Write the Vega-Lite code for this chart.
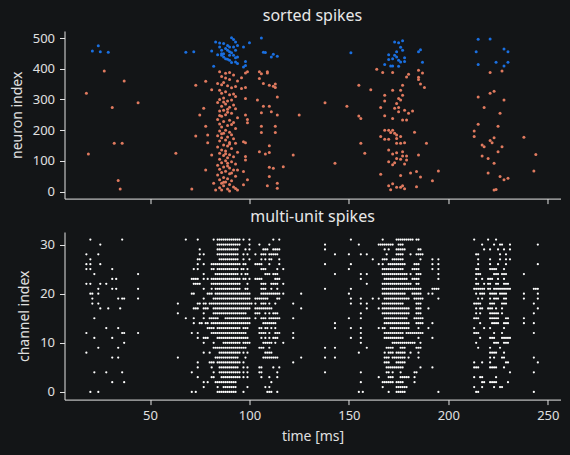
{
  "$schema": "https://vega.github.io/schema/vega-lite/v6.json",
  "background": "#131517",
  "padding": {"left": 9.5, "top": 8, "right": 9, "bottom": 12.8},
  "spacing": 4,
  "config": {
    "view": {"stroke": null},
    "font": "Noto Sans",
    "axis": {
      "grid": false,
      "domainColor": "#e6e6e6",
      "tickColor": "#e6e6e6",
      "labelColor": "#e0e0e0",
      "titleColor": "#e0e0e0",
      "labelFontSize": 13,
      "titleFontSize": 14,
      "titleFontWeight": "normal",
      "tickSize": 5,
      "labelPadding": 5,
      "titlePadding": 7
    },
    "title": {"color": "#e8e8e8", "fontSize": 16, "fontWeight": "normal", "offset": 7}
  },
  "vconcat": [
    {
      "title": "sorted spikes",
      "width": 496,
      "height": 167.6,
      "data": {"name": "sorted"},
      "mark": {"type": "circle", "size": 9, "opacity": 1},
      "encoding": {
        "x": {
          "field": "t",
          "type": "quantitative",
          "scale": {"domain": [7, 256.4], "nice": false, "zero": false},
          "axis": {"labels": false, "title": null, "values": [50, 100, 150, 200, 250]}
        },
        "y": {
          "field": "n",
          "type": "quantitative",
          "scale": {"domain": [-23, 523], "nice": false, "zero": false},
          "axis": {"title": "neuron index", "titlePadding": 8, "values": [0, 100, 200, 300, 400, 500]}
        },
        "color": {
          "field": "n",
          "type": "quantitative",
          "scale": {"type": "threshold", "domain": [400], "range": ["#e07a5f", "#1a6fe0"]},
          "legend": null
        }
      }
    },
    {
      "title": "multi-unit spikes",
      "width": 496,
      "height": 167.6,
      "data": {"name": "mua"},
      "mark": {"type": "circle", "size": 5, "opacity": 1, "color": "#ffffff"},
      "encoding": {
        "x": {
          "field": "t",
          "type": "quantitative",
          "scale": {"domain": [7, 256.4], "nice": false, "zero": false},
          "axis": {"title": "time [ms]", "values": [50, 100, 150, 200, 250]}
        },
        "y": {
          "field": "c",
          "type": "quantitative",
          "scale": {"domain": [-1.55, 32.55], "nice": false, "zero": false},
          "axis": {"title": "channel index", "titlePadding": 8, "values": [0, 10, 20, 30]}
        }
      }
    }
  ],
  "datasets": {
    "sorted": [
      {"t":21,"n":458},{"t":24,"n":475},{"t":25,"n":455},{"t":29,"n":454},{"t":68,"n":454},{"t":72,"n":455},{"t":81,"n":458},{"t":83,"n":487},{"t":85,"n":484},{"t":82,"n":408},{"t":84,"n":446},{"t":86,"n":444},{"t":87,"n":438},{"t":87,"n":482},{"t":88,"n":466},{"t":88,"n":433},{"t":89,"n":476},{"t":89,"n":460},{"t":90,"n":455},{"t":90,"n":444},{"t":90,"n":428},{"t":91,"n":452},{"t":91,"n":501},{"t":92,"n":495},{"t":92,"n":471},{"t":93,"n":436},{"t":93,"n":487},{"t":93,"n":422},{"t":94,"n":476},{"t":94,"n":438},{"t":89,"n":431},{"t":91,"n":420},{"t":97,"n":471},{"t":97,"n":406},{"t":98,"n":411},{"t":98,"n":424},{"t":100,"n":485},{"t":106,"n":500},{"t":107,"n":454},{"t":108,"n":453},{"t":111,"n":438},{"t":112,"n":447},{"t":114,"n":441},{"t":86,"n":460},{"t":87,"n":449},{"t":92,"n":444},{"t":90,"n":471},{"t":93,"n":460},{"t":94,"n":417},{"t":85,"n":471},{"t":86,"n":449},
      {"t":151,"n":452},{"t":173,"n":487},{"t":175,"n":485},{"t":177,"n":491},{"t":174,"n":455},{"t":176,"n":470},{"t":177,"n":460},{"t":170,"n":446},{"t":172,"n":433},{"t":173,"n":444},{"t":174,"n":438},{"t":175,"n":428},{"t":176,"n":422},{"t":178,"n":436},{"t":178,"n":424},{"t":168,"n":414},{"t":171,"n":409},{"t":172,"n":409},{"t":175,"n":408},{"t":170,"n":430},{"t":185,"n":455},{"t":186,"n":462},{"t":187,"n":421},{"t":215,"n":496},{"t":221,"n":497},{"t":214,"n":455},{"t":215,"n":414},{"t":224,"n":421},{"t":228,"n":464},{"t":230,"n":455},{"t":228,"n":409},{"t":230,"n":421},
      {"t":18,"n":320},{"t":19,"n":122},{"t":27,"n":393},{"t":31,"n":274},{"t":32,"n":157},{"t":36,"n":157},{"t":37,"n":360},{"t":34,"n":36},{"t":35,"n":8},{"t":44,"n":289},{"t":63,"n":125},{"t":71,"n":8},{"t":73,"n":346},{"t":75,"n":249},{"t":73,"n":181},{"t":77,"n":271},{"t":78,"n":213},{"t":78,"n":359},{"t":79,"n":184},{"t":79,"n":159},{"t":78,"n":70},{"t":81,"n":119},{"t":81,"n":332},{"t":82,"n":27},{"t":83,"n":5},
      {"t":85,"n":390},{"t":88,"n":385},{"t":92,"n":380},{"t":86,"n":375},{"t":90,"n":365},{"t":94,"n":360},{"t":87,"n":355},{"t":84,"n":352},{"t":89,"n":345},{"t":93,"n":342},{"t":91,"n":338},{"t":85,"n":330},{"t":88,"n":325},{"t":86,"n":320},{"t":90,"n":315},{"t":93,"n":310},{"t":87,"n":305},{"t":85,"n":300},{"t":91,"n":298},{"t":89,"n":295},{"t":84,"n":290},{"t":88,"n":285},{"t":92,"n":282},{"t":86,"n":278},{"t":90,"n":275},{"t":93,"n":270},{"t":87,"n":265},{"t":85,"n":262},{"t":89,"n":258},{"t":91,"n":255},{"t":88,"n":250},{"t":86,"n":245},{"t":94,"n":240},{"t":84,"n":235},{"t":90,"n":232},{"t":87,"n":228},{"t":92,"n":225},{"t":85,"n":220},{"t":89,"n":215},{"t":86,"n":210},{"t":93,"n":205},{"t":88,"n":200},{"t":85,"n":197},{"t":90,"n":193},{"t":87,"n":190},{"t":91,"n":185},{"t":84,"n":182},{"t":89,"n":178},{"t":86,"n":175},{"t":92,"n":172},{"t":88,"n":168},{"t":85,"n":165},{"t":90,"n":160},{"t":93,"n":157},{"t":87,"n":152},{"t":89,"n":148},{"t":84,"n":145},{"t":91,"n":140},{"t":86,"n":135},{"t":88,"n":132},{"t":94,"n":128},{"t":85,"n":125},{"t":90,"n":120},{"t":87,"n":117},{"t":92,"n":113},{"t":89,"n":110},{"t":85,"n":105},{"t":88,"n":100},{"t":91,"n":97},{"t":86,"n":94},{"t":93,"n":90},{"t":84,"n":86},{"t":89,"n":83},{"t":87,"n":80},{"t":90,"n":77},{"t":85,"n":73},{"t":92,"n":70},{"t":88,"n":66},{"t":86,"n":62},{"t":90,"n":58},{"t":84,"n":54},{"t":93,"n":50},{"t":87,"n":46},{"t":89,"n":42},{"t":85,"n":38},{"t":91,"n":35},{"t":88,"n":31},{"t":86,"n":27},{"t":90,"n":23},{"t":87,"n":19},{"t":92,"n":15},{"t":85,"n":12},{"t":89,"n":8},{"t":86,"n":5},{"t":90,"n":2},{"t":90,"n":388},{"t":88,"n":370},{"t":86,"n":348},{"t":92,"n":318},{"t":87,"n":292},{"t":89,"n":268},{"t":85,"n":248},{"t":91,"n":218},{"t":86,"n":188},{"t":90,"n":155},{"t":88,"n":123},{"t":89,"n":92},{"t":91,"n":60},{"t":87,"n":30},{"t":93,"n":10},
      {"t":96,"n":371},{"t":98,"n":339},{"t":98,"n":386},{"t":99,"n":390},{"t":98,"n":303},{"t":98,"n":249},{"t":99,"n":235},{"t":99,"n":224},{"t":97,"n":162},{"t":98,"n":159},{"t":98,"n":114},{"t":98,"n":103},{"t":97,"n":65},{"t":99,"n":38},{"t":97,"n":22},{"t":94,"n":5},{"t":94,"n":70},{"t":96,"n":336},
      {"t":105,"n":390},{"t":106,"n":384},{"t":109,"n":386},{"t":109,"n":390},{"t":105,"n":368},{"t":107,"n":352},{"t":110,"n":346},{"t":112,"n":343},{"t":113,"n":339},{"t":113,"n":350},{"t":114,"n":308},{"t":104,"n":298},{"t":107,"n":278},{"t":110,"n":278},{"t":111,"n":260},{"t":114,"n":249},{"t":106,"n":257},{"t":113,"n":213},{"t":106,"n":213},{"t":106,"n":192},{"t":113,"n":192},{"t":110,"n":149},{"t":108,"n":122},{"t":110,"n":127},{"t":105,"n":130},{"t":110,"n":79},{"t":110,"n":49},{"t":109,"n":19},{"t":114,"n":27},{"t":114,"n":11},{"t":117,"n":81},{"t":122,"n":119},{"t":125,"n":249},{"t":112,"n":76},
      {"t":138,"n":289},{"t":143,"n":92},{"t":149,"n":278},{"t":155,"n":346},{"t":155,"n":246},{"t":156,"n":238},{"t":156,"n":157},{"t":158,"n":125},{"t":161,"n":332},{"t":164,"n":398},{"t":167,"n":388},{"t":166,"n":56},{"t":172,"n":388},{"t":168,"n":314},{"t":168,"n":295},{"t":166,"n":274},{"t":168,"n":247},{"t":172,"n":238},{"t":172,"n":330},{"t":176,"n":330},{"t":177,"n":346},{"t":177,"n":314},{"t":175,"n":303},{"t":176,"n":298},{"t":174,"n":287},{"t":175,"n":274},{"t":173,"n":271},{"t":178,"n":265},{"t":175,"n":260},{"t":180,"n":255},{"t":182,"n":262},{"t":177,"n":233},{"t":179,"n":233},{"t":168,"n":200},{"t":170,"n":200},{"t":172,"n":200},{"t":171,"n":192},{"t":173,"n":190},{"t":174,"n":184},{"t":166,"n":179},{"t":168,"n":170},{"t":170,"n":170},{"t":174,"n":173},{"t":176,"n":179},{"t":174,"n":157},{"t":176,"n":157},{"t":178,"n":159},{"t":183,"n":193},{"t":170,"n":135},{"t":172,"n":122},{"t":174,"n":126},{"t":177,"n":130},{"t":177,"n":116},{"t":179,"n":116},{"t":174,"n":108},{"t":176,"n":105},{"t":179,"n":103},{"t":173,"n":94},{"t":172,"n":87},{"t":170,"n":97},{"t":178,"n":90},{"t":181,"n":60},{"t":184,"n":65},{"t":185,"n":119},{"t":176,"n":52},{"t":186,"n":47},{"t":170,"n":19},{"t":171,"n":6},{"t":172,"n":25},{"t":174,"n":14},{"t":176,"n":14},{"t":177,"n":19},{"t":178,"n":9},{"t":184,"n":16},{"t":189,"n":157},{"t":192,"n":35},{"t":195,"n":67},{"t":185,"n":395},{"t":187,"n":386},{"t":180,"n":382},{"t":179,"n":373},{"t":185,"n":365},{"t":185,"n":372},{"t":186,"n":350},{"t":188,"n":339},
      {"t":221,"n":388},{"t":227,"n":393},{"t":221,"n":320},{"t":223,"n":327},{"t":215,"n":308},{"t":228,"n":298},{"t":218,"n":274},{"t":226,"n":255},{"t":215,"n":219},{"t":225,"n":213},{"t":213,"n":197},{"t":213,"n":179},{"t":223,"n":175},{"t":221,"n":166},{"t":222,"n":159},{"t":217,"n":152},{"t":218,"n":146},{"t":227,"n":146},{"t":225,"n":130},{"t":217,"n":116},{"t":220,"n":108},{"t":223,"n":92},{"t":220,"n":60},{"t":226,"n":49},{"t":228,"n":38},{"t":230,"n":43},{"t":223,"n":5},{"t":224,"n":7},{"t":238,"n":177},{"t":244,"n":121},{"t":243,"n":67}
    ],
    "mua": [
      {"t":20,"c":31},{"t":36,"c":31},{"t":68,"c":31},{"t":74,"c":31},{"t":82,"c":31},{"t":84,"c":31},{"t":85,"c":31},{"t":86,"c":31},{"t":87,"c":31},{"t":88,"c":31},{"t":89,"c":31},{"t":90,"c":31},{"t":91,"c":31},{"t":92,"c":31},{"t":93,"c":31},{"t":94,"c":31},{"t":95,"c":31},{"t":97,"c":31},{"t":100,"c":31},{"t":112,"c":31},{"t":115,"c":31},{"t":151,"c":31},{"t":167,"c":31},{"t":174,"c":31},{"t":175,"c":31},{"t":176,"c":31},{"t":177,"c":31},{"t":178,"c":31},{"t":179,"c":31},{"t":180,"c":31},{"t":181,"c":31},{"t":182,"c":31},{"t":184,"c":31},{"t":185,"c":31},{"t":213,"c":31},{"t":220,"c":31},{"t":224,"c":31},
      {"t":25,"c":30},{"t":84,"c":30},{"t":85,"c":30},{"t":86,"c":30},{"t":87,"c":30},{"t":88,"c":30},{"t":89,"c":30},{"t":90,"c":30},{"t":91,"c":30},{"t":92,"c":30},{"t":93,"c":30},{"t":94,"c":30},{"t":95,"c":30},{"t":100,"c":30},{"t":105,"c":30},{"t":110,"c":30},{"t":138,"c":30},{"t":155,"c":30},{"t":165,"c":30},{"t":166,"c":30},{"t":167,"c":30},{"t":168,"c":30},{"t":169,"c":30},{"t":170,"c":30},{"t":171,"c":30},{"t":172,"c":30},{"t":175,"c":30},{"t":176,"c":30},{"t":177,"c":30},{"t":217,"c":30},{"t":223,"c":30},{"t":226,"c":30},{"t":227,"c":30},{"t":231,"c":30},{"t":245,"c":30},
      {"t":75,"c":29},{"t":84,"c":29},{"t":85,"c":29},{"t":86,"c":29},{"t":87,"c":29},{"t":88,"c":29},{"t":89,"c":29},{"t":90,"c":29},{"t":91,"c":29},{"t":92,"c":29},{"t":93,"c":29},{"t":94,"c":29},{"t":98,"c":29},{"t":100,"c":29},{"t":107,"c":29},{"t":108,"c":29},{"t":109,"c":29},{"t":112,"c":29},{"t":113,"c":29},{"t":114,"c":29},{"t":115,"c":29},{"t":138,"c":29},{"t":168,"c":29},{"t":170,"c":29},{"t":174,"c":29},{"t":175,"c":29},{"t":176,"c":29},{"t":177,"c":29},{"t":178,"c":29},{"t":185,"c":29},{"t":186,"c":29},{"t":218,"c":29},{"t":221,"c":29},{"t":225,"c":29},{"t":228,"c":29},{"t":231,"c":29},
      {"t":18,"c":28},{"t":24,"c":28},{"t":75,"c":28},{"t":77,"c":28},{"t":84,"c":28},{"t":85,"c":28},{"t":86,"c":28},{"t":87,"c":28},{"t":88,"c":28},{"t":89,"c":28},{"t":90,"c":28},{"t":91,"c":28},{"t":92,"c":28},{"t":93,"c":28},{"t":94,"c":28},{"t":97,"c":28},{"t":99,"c":28},{"t":103,"c":28},{"t":106,"c":28},{"t":107,"c":28},{"t":108,"c":28},{"t":110,"c":28},{"t":111,"c":28},{"t":112,"c":28},{"t":113,"c":28},{"t":114,"c":28},{"t":143,"c":28},{"t":150,"c":28},{"t":156,"c":28},{"t":159,"c":28},{"t":169,"c":28},{"t":174,"c":28},{"t":175,"c":28},{"t":176,"c":28},{"t":177,"c":28},{"t":181,"c":28},{"t":184,"c":28},{"t":185,"c":28},{"t":186,"c":28},{"t":187,"c":28},{"t":214,"c":28},{"t":215,"c":28},{"t":226,"c":28},{"t":229,"c":28},
      {"t":20,"c":27},{"t":74,"c":27},{"t":75,"c":27},{"t":85,"c":27},{"t":86,"c":27},{"t":87,"c":27},{"t":88,"c":27},{"t":89,"c":27},{"t":90,"c":27},{"t":91,"c":27},{"t":92,"c":27},{"t":93,"c":27},{"t":94,"c":27},{"t":97,"c":27},{"t":100,"c":27},{"t":106,"c":27},{"t":108,"c":27},{"t":110,"c":27},{"t":111,"c":27},{"t":115,"c":27},{"t":162,"c":27},{"t":167,"c":27},{"t":168,"c":27},{"t":169,"c":27},{"t":172,"c":27},{"t":173,"c":27},{"t":174,"c":27},{"t":175,"c":27},{"t":176,"c":27},{"t":177,"c":27},{"t":186,"c":27},{"t":192,"c":27},{"t":195,"c":27},{"t":215,"c":27},{"t":221,"c":27},{"t":226,"c":27},{"t":229,"c":27},{"t":231,"c":27},
      {"t":18,"c":26},{"t":20,"c":26},{"t":25,"c":26},{"t":74,"c":26},{"t":77,"c":26},{"t":81,"c":26},{"t":82,"c":26},{"t":83,"c":26},{"t":84,"c":26},{"t":85,"c":26},{"t":86,"c":26},{"t":87,"c":26},{"t":88,"c":26},{"t":89,"c":26},{"t":90,"c":26},{"t":91,"c":26},{"t":92,"c":26},{"t":93,"c":26},{"t":94,"c":26},{"t":95,"c":26},{"t":97,"c":26},{"t":98,"c":26},{"t":103,"c":26},{"t":104,"c":26},{"t":105,"c":26},{"t":106,"c":26},{"t":110,"c":26},{"t":115,"c":26},{"t":138,"c":26},{"t":151,"c":26},{"t":165,"c":26},{"t":167,"c":26},{"t":170,"c":26},{"t":171,"c":26},{"t":172,"c":26},{"t":173,"c":26},{"t":174,"c":26},{"t":175,"c":26},{"t":176,"c":26},{"t":177,"c":26},{"t":178,"c":26},{"t":183,"c":26},{"t":184,"c":26},{"t":185,"c":26},{"t":192,"c":26},{"t":195,"c":26},{"t":215,"c":26},{"t":221,"c":26},{"t":225,"c":26},{"t":229,"c":26},{"t":245,"c":26},
      {"t":18,"c":25},{"t":20,"c":25},{"t":31,"c":25},{"t":72,"c":25},{"t":74,"c":25},{"t":81,"c":25},{"t":82,"c":25},{"t":84,"c":25},{"t":85,"c":25},{"t":86,"c":25},{"t":87,"c":25},{"t":88,"c":25},{"t":89,"c":25},{"t":90,"c":25},{"t":91,"c":25},{"t":92,"c":25},{"t":93,"c":25},{"t":94,"c":25},{"t":96,"c":25},{"t":97,"c":25},{"t":99,"c":25},{"t":106,"c":25},{"t":107,"c":25},{"t":108,"c":25},{"t":114,"c":25},{"t":117,"c":25},{"t":150,"c":25},{"t":167,"c":25},{"t":168,"c":25},{"t":169,"c":25},{"t":170,"c":25},{"t":171,"c":25},{"t":172,"c":25},{"t":173,"c":25},{"t":174,"c":25},{"t":175,"c":25},{"t":176,"c":25},{"t":177,"c":25},{"t":182,"c":25},{"t":183,"c":25},{"t":184,"c":25},{"t":185,"c":25},{"t":192,"c":25},{"t":195,"c":25},{"t":214,"c":25},{"t":215,"c":25},{"t":221,"c":25},{"t":222,"c":25},{"t":223,"c":25},{"t":224,"c":25},{"t":228,"c":25},
      {"t":22,"c":24},{"t":44,"c":24},{"t":77,"c":24},{"t":83,"c":24},{"t":84,"c":24},{"t":85,"c":24},{"t":86,"c":24},{"t":87,"c":24},{"t":88,"c":24},{"t":89,"c":24},{"t":90,"c":24},{"t":91,"c":24},{"t":92,"c":24},{"t":93,"c":24},{"t":94,"c":24},{"t":96,"c":24},{"t":98,"c":24},{"t":99,"c":24},{"t":108,"c":24},{"t":109,"c":24},{"t":110,"c":24},{"t":112,"c":24},{"t":113,"c":24},{"t":114,"c":24},{"t":143,"c":24},{"t":156,"c":24},{"t":159,"c":24},{"t":167,"c":24},{"t":168,"c":24},{"t":169,"c":24},{"t":170,"c":24},{"t":171,"c":24},{"t":172,"c":24},{"t":173,"c":24},{"t":174,"c":24},{"t":175,"c":24},{"t":176,"c":24},{"t":177,"c":24},{"t":178,"c":24},{"t":179,"c":24},{"t":181,"c":24},{"t":184,"c":24},{"t":185,"c":24},{"t":186,"c":24},{"t":195,"c":24},{"t":214,"c":24},{"t":215,"c":24},{"t":216,"c":24},{"t":223,"c":24},{"t":224,"c":24},{"t":225,"c":24},{"t":227,"c":24},{"t":228,"c":24},{"t":229,"c":24},{"t":238,"c":24},
      {"t":31,"c":23},{"t":33,"c":23},{"t":71,"c":23},{"t":72,"c":23},{"t":73,"c":23},{"t":74,"c":23},{"t":77,"c":23},{"t":79,"c":23},{"t":81,"c":23},{"t":82,"c":23},{"t":83,"c":23},{"t":84,"c":23},{"t":85,"c":23},{"t":86,"c":23},{"t":87,"c":23},{"t":88,"c":23},{"t":89,"c":23},{"t":90,"c":23},{"t":91,"c":23},{"t":92,"c":23},{"t":93,"c":23},{"t":94,"c":23},{"t":95,"c":23},{"t":97,"c":23},{"t":98,"c":23},{"t":100,"c":23},{"t":103,"c":23},{"t":104,"c":23},{"t":105,"c":23},{"t":106,"c":23},{"t":113,"c":23},{"t":114,"c":23},{"t":115,"c":23},{"t":156,"c":23},{"t":168,"c":23},{"t":169,"c":23},{"t":170,"c":23},{"t":171,"c":23},{"t":172,"c":23},{"t":173,"c":23},{"t":174,"c":23},{"t":175,"c":23},{"t":176,"c":23},{"t":177,"c":23},{"t":178,"c":23},{"t":179,"c":23},{"t":182,"c":23},{"t":183,"c":23},{"t":184,"c":23},{"t":185,"c":23},{"t":195,"c":23},{"t":214,"c":23},{"t":217,"c":23},{"t":220,"c":23},{"t":221,"c":23},{"t":222,"c":23},{"t":225,"c":23},{"t":228,"c":23},
      {"t":18,"c":22},{"t":20,"c":22},{"t":25,"c":22},{"t":28,"c":22},{"t":72,"c":22},{"t":73,"c":22},{"t":74,"c":22},{"t":75,"c":22},{"t":81,"c":22},{"t":82,"c":22},{"t":83,"c":22},{"t":84,"c":22},{"t":85,"c":22},{"t":86,"c":22},{"t":87,"c":22},{"t":88,"c":22},{"t":89,"c":22},{"t":90,"c":22},{"t":91,"c":22},{"t":92,"c":22},{"t":93,"c":22},{"t":94,"c":22},{"t":95,"c":22},{"t":99,"c":22},{"t":106,"c":22},{"t":107,"c":22},{"t":108,"c":22},{"t":111,"c":22},{"t":112,"c":22},{"t":113,"c":22},{"t":114,"c":22},{"t":117,"c":22},{"t":159,"c":22},{"t":167,"c":22},{"t":168,"c":22},{"t":169,"c":22},{"t":170,"c":22},{"t":171,"c":22},{"t":172,"c":22},{"t":173,"c":22},{"t":174,"c":22},{"t":175,"c":22},{"t":176,"c":22},{"t":177,"c":22},{"t":178,"c":22},{"t":179,"c":22},{"t":180,"c":22},{"t":181,"c":22},{"t":184,"c":22},{"t":185,"c":22},{"t":214,"c":22},{"t":215,"c":22},{"t":218,"c":22},{"t":220,"c":22},{"t":221,"c":22},{"t":224,"c":22},{"t":225,"c":22},{"t":228,"c":22},{"t":229,"c":22},{"t":230,"c":22},
      {"t":24,"c":21},{"t":31,"c":21},{"t":33,"c":21},{"t":44,"c":21},{"t":77,"c":21},{"t":81,"c":21},{"t":83,"c":21},{"t":84,"c":21},{"t":85,"c":21},{"t":86,"c":21},{"t":87,"c":21},{"t":88,"c":21},{"t":89,"c":21},{"t":90,"c":21},{"t":91,"c":21},{"t":92,"c":21},{"t":93,"c":21},{"t":94,"c":21},{"t":95,"c":21},{"t":98,"c":21},{"t":99,"c":21},{"t":106,"c":21},{"t":107,"c":21},{"t":108,"c":21},{"t":111,"c":21},{"t":114,"c":21},{"t":138,"c":21},{"t":151,"c":21},{"t":167,"c":21},{"t":168,"c":21},{"t":169,"c":21},{"t":170,"c":21},{"t":171,"c":21},{"t":172,"c":21},{"t":173,"c":21},{"t":174,"c":21},{"t":175,"c":21},{"t":176,"c":21},{"t":177,"c":21},{"t":178,"c":21},{"t":179,"c":21},{"t":180,"c":21},{"t":181,"c":21},{"t":182,"c":21},{"t":183,"c":21},{"t":184,"c":21},{"t":185,"c":21},{"t":186,"c":21},{"t":192,"c":21},{"t":193,"c":21},{"t":194,"c":21},{"t":195,"c":21},{"t":213,"c":21},{"t":214,"c":21},{"t":215,"c":21},{"t":216,"c":21},{"t":217,"c":21},{"t":218,"c":21},{"t":220,"c":21},{"t":221,"c":21},{"t":223,"c":21},{"t":224,"c":21},{"t":225,"c":21},{"t":226,"c":21},{"t":227,"c":21},{"t":228,"c":21},{"t":229,"c":21},{"t":230,"c":21},{"t":231,"c":21},{"t":243,"c":21},{"t":244,"c":21},{"t":245,"c":21},
      {"t":20,"c":20},{"t":21,"c":20},{"t":24,"c":20},{"t":71,"c":20},{"t":72,"c":20},{"t":79,"c":20},{"t":80,"c":20},{"t":81,"c":20},{"t":83,"c":20},{"t":84,"c":20},{"t":85,"c":20},{"t":86,"c":20},{"t":87,"c":20},{"t":88,"c":20},{"t":89,"c":20},{"t":90,"c":20},{"t":91,"c":20},{"t":92,"c":20},{"t":93,"c":20},{"t":94,"c":20},{"t":95,"c":20},{"t":96,"c":20},{"t":97,"c":20},{"t":98,"c":20},{"t":99,"c":20},{"t":100,"c":20},{"t":106,"c":20},{"t":107,"c":20},{"t":108,"c":20},{"t":109,"c":20},{"t":110,"c":20},{"t":111,"c":20},{"t":112,"c":20},{"t":113,"c":20},{"t":114,"c":20},{"t":115,"c":20},{"t":117,"c":20},{"t":126,"c":20},{"t":150,"c":20},{"t":167,"c":20},{"t":168,"c":20},{"t":169,"c":20},{"t":170,"c":20},{"t":171,"c":20},{"t":172,"c":20},{"t":173,"c":20},{"t":174,"c":20},{"t":175,"c":20},{"t":176,"c":20},{"t":177,"c":20},{"t":178,"c":20},{"t":182,"c":20},{"t":183,"c":20},{"t":184,"c":20},{"t":185,"c":20},{"t":186,"c":20},{"t":190,"c":20},{"t":192,"c":20},{"t":214,"c":20},{"t":216,"c":20},{"t":217,"c":20},{"t":218,"c":20},{"t":221,"c":20},{"t":222,"c":20},{"t":223,"c":20},{"t":224,"c":20},{"t":226,"c":20},{"t":227,"c":20},{"t":228,"c":20},{"t":229,"c":20},{"t":238,"c":20},{"t":245,"c":20},
      {"t":21,"c":19},{"t":34,"c":19},{"t":36,"c":19},{"t":37,"c":19},{"t":44,"c":19},{"t":77,"c":19},{"t":82,"c":19},{"t":83,"c":19},{"t":84,"c":19},{"t":85,"c":19},{"t":86,"c":19},{"t":87,"c":19},{"t":88,"c":19},{"t":89,"c":19},{"t":90,"c":19},{"t":91,"c":19},{"t":92,"c":19},{"t":93,"c":19},{"t":94,"c":19},{"t":95,"c":19},{"t":96,"c":19},{"t":97,"c":19},{"t":98,"c":19},{"t":99,"c":19},{"t":100,"c":19},{"t":103,"c":19},{"t":104,"c":19},{"t":105,"c":19},{"t":106,"c":19},{"t":107,"c":19},{"t":108,"c":19},{"t":109,"c":19},{"t":114,"c":19},{"t":115,"c":19},{"t":151,"c":19},{"t":156,"c":19},{"t":162,"c":19},{"t":165,"c":19},{"t":168,"c":19},{"t":169,"c":19},{"t":170,"c":19},{"t":171,"c":19},{"t":172,"c":19},{"t":173,"c":19},{"t":174,"c":19},{"t":175,"c":19},{"t":176,"c":19},{"t":177,"c":19},{"t":178,"c":19},{"t":179,"c":19},{"t":180,"c":19},{"t":183,"c":19},{"t":184,"c":19},{"t":185,"c":19},{"t":186,"c":19},{"t":187,"c":19},{"t":195,"c":19},{"t":215,"c":19},{"t":217,"c":19},{"t":221,"c":19},{"t":223,"c":19},{"t":224,"c":19},{"t":225,"c":19},{"t":228,"c":19},{"t":229,"c":19},{"t":238,"c":19},{"t":245,"c":19},
      {"t":21,"c":18},{"t":24,"c":18},{"t":64,"c":18},{"t":74,"c":18},{"t":75,"c":18},{"t":77,"c":18},{"t":78,"c":18},{"t":80,"c":18},{"t":81,"c":18},{"t":82,"c":18},{"t":83,"c":18},{"t":84,"c":18},{"t":85,"c":18},{"t":86,"c":18},{"t":87,"c":18},{"t":88,"c":18},{"t":89,"c":18},{"t":90,"c":18},{"t":91,"c":18},{"t":92,"c":18},{"t":93,"c":18},{"t":94,"c":18},{"t":95,"c":18},{"t":96,"c":18},{"t":97,"c":18},{"t":98,"c":18},{"t":99,"c":18},{"t":100,"c":18},{"t":101,"c":18},{"t":103,"c":18},{"t":106,"c":18},{"t":107,"c":18},{"t":108,"c":18},{"t":110,"c":18},{"t":113,"c":18},{"t":122,"c":18},{"t":151,"c":18},{"t":156,"c":18},{"t":159,"c":18},{"t":167,"c":18},{"t":168,"c":18},{"t":169,"c":18},{"t":170,"c":18},{"t":171,"c":18},{"t":172,"c":18},{"t":173,"c":18},{"t":174,"c":18},{"t":175,"c":18},{"t":176,"c":18},{"t":177,"c":18},{"t":184,"c":18},{"t":185,"c":18},{"t":186,"c":18},{"t":213,"c":18},{"t":214,"c":18},{"t":215,"c":18},{"t":216,"c":18},{"t":221,"c":18},{"t":222,"c":18},{"t":223,"c":18},{"t":227,"c":18},{"t":228,"c":18},{"t":229,"c":18},{"t":243,"c":18},
      {"t":25,"c":17},{"t":29,"c":17},{"t":35,"c":17},{"t":72,"c":17},{"t":73,"c":17},{"t":74,"c":17},{"t":77,"c":17},{"t":78,"c":17},{"t":79,"c":17},{"t":82,"c":17},{"t":83,"c":17},{"t":84,"c":17},{"t":85,"c":17},{"t":86,"c":17},{"t":87,"c":17},{"t":88,"c":17},{"t":89,"c":17},{"t":90,"c":17},{"t":91,"c":17},{"t":92,"c":17},{"t":93,"c":17},{"t":94,"c":17},{"t":95,"c":17},{"t":96,"c":17},{"t":97,"c":17},{"t":98,"c":17},{"t":99,"c":17},{"t":100,"c":17},{"t":103,"c":17},{"t":104,"c":17},{"t":105,"c":17},{"t":106,"c":17},{"t":107,"c":17},{"t":108,"c":17},{"t":109,"c":17},{"t":110,"c":17},{"t":111,"c":17},{"t":126,"c":17},{"t":159,"c":17},{"t":165,"c":17},{"t":167,"c":17},{"t":168,"c":17},{"t":169,"c":17},{"t":170,"c":17},{"t":171,"c":17},{"t":172,"c":17},{"t":173,"c":17},{"t":174,"c":17},{"t":175,"c":17},{"t":176,"c":17},{"t":177,"c":17},{"t":178,"c":17},{"t":179,"c":17},{"t":180,"c":17},{"t":184,"c":17},{"t":185,"c":17},{"t":186,"c":17},{"t":190,"c":17},{"t":214,"c":17},{"t":216,"c":17},{"t":217,"c":17},{"t":220,"c":17},{"t":221,"c":17},{"t":222,"c":17},{"t":224,"c":17},{"t":227,"c":17},{"t":245,"c":17},
      {"t":64,"c":16},{"t":77,"c":16},{"t":82,"c":16},{"t":83,"c":16},{"t":84,"c":16},{"t":85,"c":16},{"t":86,"c":16},{"t":87,"c":16},{"t":88,"c":16},{"t":89,"c":16},{"t":90,"c":16},{"t":91,"c":16},{"t":92,"c":16},{"t":93,"c":16},{"t":94,"c":16},{"t":95,"c":16},{"t":96,"c":16},{"t":97,"c":16},{"t":98,"c":16},{"t":103,"c":16},{"t":104,"c":16},{"t":105,"c":16},{"t":108,"c":16},{"t":110,"c":16},{"t":112,"c":16},{"t":113,"c":16},{"t":114,"c":16},{"t":156,"c":16},{"t":167,"c":16},{"t":168,"c":16},{"t":169,"c":16},{"t":170,"c":16},{"t":171,"c":16},{"t":172,"c":16},{"t":173,"c":16},{"t":174,"c":16},{"t":175,"c":16},{"t":176,"c":16},{"t":177,"c":16},{"t":178,"c":16},{"t":179,"c":16},{"t":180,"c":16},{"t":184,"c":16},{"t":185,"c":16},{"t":186,"c":16},{"t":214,"c":16},{"t":216,"c":16},{"t":221,"c":16},{"t":222,"c":16},{"t":223,"c":16},{"t":224,"c":16},{"t":225,"c":16},{"t":227,"c":16},{"t":243,"c":16},
      {"t":22,"c":15},{"t":68,"c":15},{"t":72,"c":15},{"t":77,"c":15},{"t":80,"c":15},{"t":81,"c":15},{"t":82,"c":15},{"t":83,"c":15},{"t":84,"c":15},{"t":88,"c":15},{"t":89,"c":15},{"t":90,"c":15},{"t":91,"c":15},{"t":92,"c":15},{"t":93,"c":15},{"t":94,"c":15},{"t":95,"c":15},{"t":96,"c":15},{"t":97,"c":15},{"t":98,"c":15},{"t":99,"c":15},{"t":100,"c":15},{"t":103,"c":15},{"t":106,"c":15},{"t":107,"c":15},{"t":108,"c":15},{"t":110,"c":15},{"t":111,"c":15},{"t":112,"c":15},{"t":113,"c":15},{"t":114,"c":15},{"t":115,"c":15},{"t":122,"c":15},{"t":150,"c":15},{"t":156,"c":15},{"t":168,"c":15},{"t":169,"c":15},{"t":170,"c":15},{"t":171,"c":15},{"t":172,"c":15},{"t":173,"c":15},{"t":174,"c":15},{"t":175,"c":15},{"t":176,"c":15},{"t":177,"c":15},{"t":178,"c":15},{"t":179,"c":15},{"t":183,"c":15},{"t":184,"c":15},{"t":185,"c":15},{"t":186,"c":15},{"t":187,"c":15},{"t":213,"c":15},{"t":214,"c":15},{"t":215,"c":15},{"t":221,"c":15},{"t":222,"c":15},{"t":223,"c":15},{"t":224,"c":15},{"t":225,"c":15},{"t":229,"c":15},{"t":230,"c":15},{"t":238,"c":15},
      {"t":72,"c":14},{"t":75,"c":14},{"t":76,"c":14},{"t":78,"c":14},{"t":79,"c":14},{"t":81,"c":14},{"t":82,"c":14},{"t":83,"c":14},{"t":84,"c":14},{"t":85,"c":14},{"t":86,"c":14},{"t":87,"c":14},{"t":88,"c":14},{"t":89,"c":14},{"t":90,"c":14},{"t":91,"c":14},{"t":92,"c":14},{"t":93,"c":14},{"t":94,"c":14},{"t":95,"c":14},{"t":96,"c":14},{"t":97,"c":14},{"t":98,"c":14},{"t":99,"c":14},{"t":100,"c":14},{"t":107,"c":14},{"t":108,"c":14},{"t":109,"c":14},{"t":110,"c":14},{"t":111,"c":14},{"t":112,"c":14},{"t":113,"c":14},{"t":143,"c":14},{"t":168,"c":14},{"t":169,"c":14},{"t":170,"c":14},{"t":171,"c":14},{"t":172,"c":14},{"t":173,"c":14},{"t":174,"c":14},{"t":175,"c":14},{"t":176,"c":14},{"t":177,"c":14},{"t":178,"c":14},{"t":179,"c":14},{"t":180,"c":14},{"t":184,"c":14},{"t":185,"c":14},{"t":186,"c":14},{"t":187,"c":14},{"t":192,"c":14},{"t":216,"c":14},{"t":222,"c":14},{"t":223,"c":14},{"t":224,"c":14},{"t":225,"c":14},{"t":228,"c":14},{"t":229,"c":14},{"t":230,"c":14},{"t":238,"c":14},{"t":243,"c":14},
      {"t":28,"c":13},{"t":34,"c":13},{"t":79,"c":13},{"t":80,"c":13},{"t":81,"c":13},{"t":82,"c":13},{"t":84,"c":13},{"t":85,"c":13},{"t":86,"c":13},{"t":87,"c":13},{"t":88,"c":13},{"t":89,"c":13},{"t":90,"c":13},{"t":91,"c":13},{"t":92,"c":13},{"t":93,"c":13},{"t":94,"c":13},{"t":95,"c":13},{"t":97,"c":13},{"t":98,"c":13},{"t":99,"c":13},{"t":105,"c":13},{"t":106,"c":13},{"t":108,"c":13},{"t":109,"c":13},{"t":111,"c":13},{"t":113,"c":13},{"t":143,"c":13},{"t":151,"c":13},{"t":156,"c":13},{"t":165,"c":13},{"t":167,"c":13},{"t":168,"c":13},{"t":171,"c":13},{"t":172,"c":13},{"t":173,"c":13},{"t":174,"c":13},{"t":175,"c":13},{"t":176,"c":13},{"t":177,"c":13},{"t":178,"c":13},{"t":179,"c":13},{"t":180,"c":13},{"t":185,"c":13},{"t":190,"c":13},{"t":213,"c":13},{"t":218,"c":13},{"t":221,"c":13},{"t":228,"c":13},
      {"t":18,"c":12},{"t":36,"c":12},{"t":37,"c":12},{"t":44,"c":12},{"t":71,"c":12},{"t":74,"c":12},{"t":81,"c":12},{"t":82,"c":12},{"t":83,"c":12},{"t":84,"c":12},{"t":85,"c":12},{"t":86,"c":12},{"t":87,"c":12},{"t":88,"c":12},{"t":89,"c":12},{"t":90,"c":12},{"t":91,"c":12},{"t":92,"c":12},{"t":93,"c":12},{"t":94,"c":12},{"t":95,"c":12},{"t":96,"c":12},{"t":97,"c":12},{"t":98,"c":12},{"t":105,"c":12},{"t":106,"c":12},{"t":107,"c":12},{"t":108,"c":12},{"t":110,"c":12},{"t":113,"c":12},{"t":114,"c":12},{"t":115,"c":12},{"t":122,"c":12},{"t":156,"c":12},{"t":168,"c":12},{"t":169,"c":12},{"t":170,"c":12},{"t":171,"c":12},{"t":172,"c":12},{"t":173,"c":12},{"t":174,"c":12},{"t":175,"c":12},{"t":176,"c":12},{"t":177,"c":12},{"t":179,"c":12},{"t":180,"c":12},{"t":181,"c":12},{"t":182,"c":12},{"t":183,"c":12},{"t":184,"c":12},{"t":185,"c":12},{"t":186,"c":12},{"t":187,"c":12},{"t":213,"c":12},{"t":214,"c":12},{"t":215,"c":12},{"t":223,"c":12},{"t":227,"c":12},{"t":243,"c":12},
      {"t":22,"c":11},{"t":31,"c":11},{"t":74,"c":11},{"t":77,"c":11},{"t":78,"c":11},{"t":79,"c":11},{"t":84,"c":11},{"t":85,"c":11},{"t":86,"c":11},{"t":87,"c":11},{"t":88,"c":11},{"t":89,"c":11},{"t":90,"c":11},{"t":91,"c":11},{"t":92,"c":11},{"t":93,"c":11},{"t":94,"c":11},{"t":95,"c":11},{"t":96,"c":11},{"t":97,"c":11},{"t":98,"c":11},{"t":99,"c":11},{"t":106,"c":11},{"t":108,"c":11},{"t":110,"c":11},{"t":112,"c":11},{"t":113,"c":11},{"t":114,"c":11},{"t":122,"c":11},{"t":151,"c":11},{"t":156,"c":11},{"t":168,"c":11},{"t":169,"c":11},{"t":170,"c":11},{"t":171,"c":11},{"t":172,"c":11},{"t":173,"c":11},{"t":174,"c":11},{"t":175,"c":11},{"t":176,"c":11},{"t":177,"c":11},{"t":185,"c":11},{"t":192,"c":11},{"t":216,"c":11},{"t":221,"c":11},{"t":222,"c":11},{"t":223,"c":11},{"t":227,"c":11},{"t":228,"c":11},{"t":229,"c":11},{"t":230,"c":11},{"t":231,"c":11},
      {"t":37,"c":10},{"t":77,"c":10},{"t":82,"c":10},{"t":87,"c":10},{"t":88,"c":10},{"t":89,"c":10},{"t":90,"c":10},{"t":91,"c":10},{"t":92,"c":10},{"t":93,"c":10},{"t":94,"c":10},{"t":95,"c":10},{"t":97,"c":10},{"t":98,"c":10},{"t":99,"c":10},{"t":100,"c":10},{"t":107,"c":10},{"t":108,"c":10},{"t":109,"c":10},{"t":110,"c":10},{"t":111,"c":10},{"t":113,"c":10},{"t":117,"c":10},{"t":156,"c":10},{"t":172,"c":10},{"t":173,"c":10},{"t":174,"c":10},{"t":175,"c":10},{"t":176,"c":10},{"t":177,"c":10},{"t":178,"c":10},{"t":179,"c":10},{"t":180,"c":10},{"t":181,"c":10},{"t":182,"c":10},{"t":183,"c":10},{"t":186,"c":10},{"t":214,"c":10},{"t":223,"c":10},{"t":224,"c":10},{"t":225,"c":10},{"t":228,"c":10},{"t":229,"c":10},{"t":230,"c":10},
      {"t":24,"c":9},{"t":34,"c":9},{"t":82,"c":9},{"t":83,"c":9},{"t":84,"c":9},{"t":85,"c":9},{"t":86,"c":9},{"t":87,"c":9},{"t":88,"c":9},{"t":89,"c":9},{"t":90,"c":9},{"t":91,"c":9},{"t":92,"c":9},{"t":93,"c":9},{"t":94,"c":9},{"t":95,"c":9},{"t":96,"c":9},{"t":97,"c":9},{"t":98,"c":9},{"t":105,"c":9},{"t":106,"c":9},{"t":107,"c":9},{"t":110,"c":9},{"t":138,"c":9},{"t":143,"c":9},{"t":159,"c":9},{"t":169,"c":9},{"t":170,"c":9},{"t":171,"c":9},{"t":172,"c":9},{"t":176,"c":9},{"t":177,"c":9},{"t":178,"c":9},{"t":184,"c":9},{"t":185,"c":9},{"t":186,"c":9},{"t":215,"c":9},{"t":221,"c":9},{"t":226,"c":9},
      {"t":18,"c":8},{"t":77,"c":8},{"t":80,"c":8},{"t":85,"c":8},{"t":86,"c":8},{"t":87,"c":8},{"t":88,"c":8},{"t":89,"c":8},{"t":90,"c":8},{"t":91,"c":8},{"t":92,"c":8},{"t":93,"c":8},{"t":94,"c":8},{"t":95,"c":8},{"t":97,"c":8},{"t":99,"c":8},{"t":108,"c":8},{"t":109,"c":8},{"t":110,"c":8},{"t":111,"c":8},{"t":155,"c":8},{"t":168,"c":8},{"t":170,"c":8},{"t":171,"c":8},{"t":172,"c":8},{"t":174,"c":8},{"t":175,"c":8},{"t":176,"c":8},{"t":177,"c":8},{"t":178,"c":8},{"t":181,"c":8},{"t":185,"c":8},{"t":221,"c":8},{"t":222,"c":8},{"t":223,"c":8},{"t":224,"c":8},{"t":228,"c":8},
      {"t":31,"c":7},{"t":34,"c":7},{"t":64,"c":7},{"t":83,"c":7},{"t":84,"c":7},{"t":85,"c":7},{"t":86,"c":7},{"t":87,"c":7},{"t":88,"c":7},{"t":89,"c":7},{"t":90,"c":7},{"t":91,"c":7},{"t":92,"c":7},{"t":93,"c":7},{"t":94,"c":7},{"t":98,"c":7},{"t":107,"c":7},{"t":108,"c":7},{"t":109,"c":7},{"t":110,"c":7},{"t":111,"c":7},{"t":112,"c":7},{"t":113,"c":7},{"t":114,"c":7},{"t":126,"c":7},{"t":138,"c":7},{"t":143,"c":7},{"t":168,"c":7},{"t":169,"c":7},{"t":170,"c":7},{"t":172,"c":7},{"t":173,"c":7},{"t":174,"c":7},{"t":175,"c":7},{"t":176,"c":7},{"t":177,"c":7},{"t":178,"c":7},{"t":180,"c":7},{"t":185,"c":7},{"t":221,"c":7},{"t":223,"c":7},{"t":227,"c":7},{"t":228,"c":7},{"t":243,"c":7},
      {"t":74,"c":6},{"t":80,"c":6},{"t":81,"c":6},{"t":82,"c":6},{"t":84,"c":6},{"t":85,"c":6},{"t":86,"c":6},{"t":87,"c":6},{"t":88,"c":6},{"t":89,"c":6},{"t":90,"c":6},{"t":91,"c":6},{"t":92,"c":6},{"t":93,"c":6},{"t":94,"c":6},{"t":95,"c":6},{"t":97,"c":6},{"t":122,"c":6},{"t":168,"c":6},{"t":169,"c":6},{"t":170,"c":6},{"t":174,"c":6},{"t":175,"c":6},{"t":176,"c":6},{"t":177,"c":6},{"t":178,"c":6},{"t":213,"c":6},{"t":217,"c":6},{"t":221,"c":6},{"t":229,"c":6},{"t":230,"c":6},{"t":245,"c":6},
      {"t":74,"c":5},{"t":81,"c":5},{"t":85,"c":5},{"t":86,"c":5},{"t":87,"c":5},{"t":88,"c":5},{"t":89,"c":5},{"t":90,"c":5},{"t":91,"c":5},{"t":92,"c":5},{"t":93,"c":5},{"t":94,"c":5},{"t":97,"c":5},{"t":99,"c":5},{"t":105,"c":5},{"t":106,"c":5},{"t":112,"c":5},{"t":115,"c":5},{"t":169,"c":5},{"t":170,"c":5},{"t":171,"c":5},{"t":172,"c":5},{"t":173,"c":5},{"t":174,"c":5},{"t":175,"c":5},{"t":176,"c":5},{"t":177,"c":5},{"t":186,"c":5},{"t":192,"c":5},{"t":213,"c":5},{"t":214,"c":5},{"t":215,"c":5},{"t":221,"c":5},{"t":222,"c":5},{"t":223,"c":5},{"t":224,"c":5},{"t":228,"c":5},
      {"t":22,"c":4},{"t":28,"c":4},{"t":36,"c":4},{"t":71,"c":4},{"t":82,"c":4},{"t":85,"c":4},{"t":86,"c":4},{"t":87,"c":4},{"t":88,"c":4},{"t":89,"c":4},{"t":90,"c":4},{"t":91,"c":4},{"t":92,"c":4},{"t":93,"c":4},{"t":94,"c":4},{"t":95,"c":4},{"t":97,"c":4},{"t":99,"c":4},{"t":105,"c":4},{"t":106,"c":4},{"t":114,"c":4},{"t":138,"c":4},{"t":156,"c":4},{"t":169,"c":4},{"t":170,"c":4},{"t":172,"c":4},{"t":176,"c":4},{"t":183,"c":4},{"t":184,"c":4},{"t":231,"c":4},{"t":243,"c":4},
      {"t":74,"c":3},{"t":81,"c":3},{"t":82,"c":3},{"t":86,"c":3},{"t":87,"c":3},{"t":88,"c":3},{"t":89,"c":3},{"t":90,"c":3},{"t":91,"c":3},{"t":92,"c":3},{"t":93,"c":3},{"t":94,"c":3},{"t":95,"c":3},{"t":97,"c":3},{"t":99,"c":3},{"t":106,"c":3},{"t":110,"c":3},{"t":114,"c":3},{"t":165,"c":3},{"t":170,"c":3},{"t":171,"c":3},{"t":172,"c":3},{"t":176,"c":3},{"t":177,"c":3},{"t":178,"c":3},{"t":179,"c":3},{"t":180,"c":3},{"t":183,"c":3},{"t":213,"c":3},{"t":216,"c":3},{"t":217,"c":3},{"t":224,"c":3},
      {"t":31,"c":2},{"t":37,"c":2},{"t":77,"c":2},{"t":79,"c":2},{"t":83,"c":2},{"t":84,"c":2},{"t":85,"c":2},{"t":86,"c":2},{"t":87,"c":2},{"t":88,"c":2},{"t":89,"c":2},{"t":90,"c":2},{"t":91,"c":2},{"t":92,"c":2},{"t":93,"c":2},{"t":111,"c":2},{"t":156,"c":2},{"t":167,"c":2},{"t":168,"c":2},{"t":169,"c":2},{"t":170,"c":2},{"t":171,"c":2},{"t":172,"c":2},{"t":174,"c":2},{"t":175,"c":2},{"t":176,"c":2},{"t":177,"c":2},{"t":183,"c":2},{"t":217,"c":2},{"t":218,"c":2},{"t":221,"c":2},{"t":222,"c":2},{"t":223,"c":2},{"t":224,"c":2},{"t":230,"c":2},
      {"t":77,"c":1},{"t":84,"c":1},{"t":87,"c":1},{"t":88,"c":1},{"t":89,"c":1},{"t":90,"c":1},{"t":91,"c":1},{"t":92,"c":1},{"t":93,"c":1},{"t":99,"c":1},{"t":108,"c":1},{"t":110,"c":1},{"t":167,"c":1},{"t":174,"c":1},{"t":175,"c":1},{"t":176,"c":1},{"t":177,"c":1},{"t":178,"c":1},{"t":179,"c":1},{"t":213,"c":1},{"t":217,"c":1},{"t":223,"c":1},{"t":226,"c":1},{"t":227,"c":1},
      {"t":20,"c":0},{"t":24,"c":0},{"t":71,"c":0},{"t":73,"c":0},{"t":84,"c":0},{"t":85,"c":0},{"t":86,"c":0},{"t":87,"c":0},{"t":88,"c":0},{"t":89,"c":0},{"t":90,"c":0},{"t":91,"c":0},{"t":92,"c":0},{"t":93,"c":0},{"t":97,"c":0},{"t":109,"c":0},{"t":110,"c":0},{"t":111,"c":0},{"t":114,"c":0},{"t":155,"c":0},{"t":157,"c":0},{"t":170,"c":0},{"t":174,"c":0},{"t":175,"c":0},{"t":176,"c":0},{"t":177,"c":0},{"t":178,"c":0},{"t":195,"c":0},{"t":214,"c":0},{"t":215,"c":0},{"t":243,"c":0}
    ]
  }
}
